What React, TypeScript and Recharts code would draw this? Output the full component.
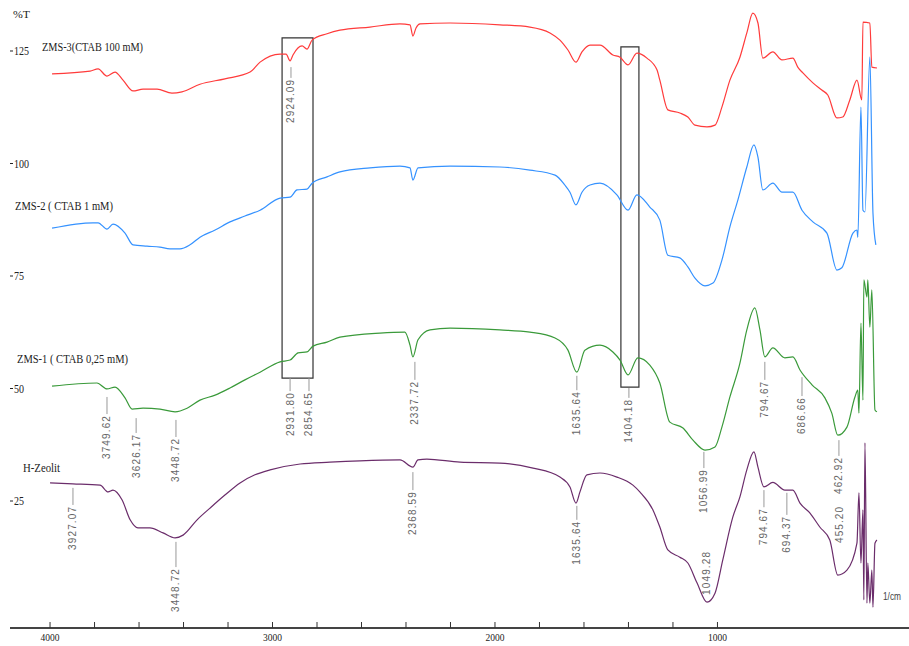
import React from "react";
import { LineChart, Line, XAxis, YAxis, ReferenceArea, ReferenceLine } from "recharts";

// wavenumber (1/cm) and %T, one pair of arrays per sample
const zms3Wn = [3991, 3820, 3784, 3744, 3708, 3672, 3627, 3582, 3519, 3452, 3407, 3326, 3214, 3101, 3056, 2966, 2939, 2921, 2908, 2867, 2845, 2822, 2755, 2697, 2562, 2427, 2382, 2369, 2355, 2337, 2202, 1978, 1843, 1753, 1708, 1672, 1636, 1609, 1573, 1528, 1470, 1438, 1402, 1362, 1317, 1272, 1259, 1223, 1169, 1133, 1101, 1047, 1011, 980, 944, 899, 868, 841, 818, 796, 751, 710, 661, 639, 616, 571, 531, 504, 463, 437, 405, 373, 351, 346, 315, 306, 283];
const zms3T = [119.7, 120.3, 120.8, 119.2, 120.1, 118.3, 115.9, 116.3, 116.3, 115.4, 115.7, 117.4, 118.6, 120.1, 122.3, 124.1, 124.1, 122.6, 123.9, 125.9, 125.2, 127.2, 128.6, 129.4, 130.1, 130.8, 130.6, 128.1, 129.9, 130.8, 131.0, 130.6, 130.1, 128.8, 127.2, 125.0, 122.3, 124.6, 126.1, 126.1, 123.9, 123.4, 121.7, 124.3, 123.2, 120.6, 118.3, 111.7, 111.0, 110.1, 108.3, 107.9, 108.3, 112.3, 118.3, 123.4, 128.8, 133.2, 131.0, 123.2, 124.6, 122.8, 123.2, 121.2, 119.9, 117.7, 116.1, 115.0, 109.9, 110.1, 113.9, 118.3, 113.9, 131.2, 131.0, 121.2, 121.0];

const zms2Wn = [3991, 3807, 3784, 3744, 3717, 3663, 3627, 3564, 3506, 3461, 3416, 3371, 3326, 3258, 3191, 3124, 3056, 2966, 2921, 2890, 2845, 2822, 2755, 2697, 2562, 2427, 2382, 2369, 2346, 2202, 1978, 1843, 1730, 1686, 1663, 1636, 1609, 1573, 1528, 1452, 1402, 1362, 1304, 1259, 1223, 1169, 1133, 1101, 1056, 1020, 980, 944, 908, 868, 836, 818, 796, 751, 710, 661, 620, 571, 508, 463, 441, 391, 373, 369, 355, 346, 337, 315, 301, 288];
const zms2T = [85.4, 86.6, 86.6, 85.2, 86.3, 84.3, 81.7, 81.4, 81.2, 80.8, 80.8, 81.7, 83.4, 85.0, 86.8, 88.1, 89.4, 92.1, 92.3, 93.9, 94.1, 95.4, 96.8, 97.9, 98.8, 99.2, 98.8, 96.1, 98.8, 99.2, 99.0, 98.3, 97.2, 95.0, 93.4, 90.6, 93.4, 95.0, 95.4, 92.8, 89.4, 92.8, 90.1, 87.2, 79.4, 78.8, 76.8, 74.3, 72.6, 73.2, 78.3, 85.7, 91.7, 99.0, 103.9, 101.2, 93.9, 95.4, 93.4, 93.4, 89.4, 86.8, 84.3, 76.1, 76.6, 84.3, 85.0, 83.4, 112.3, 89.4, 89.0, 123.4, 88.8, 81.7];

const zms1Wn = [3991, 3789, 3744, 3708, 3663, 3631, 3582, 3506, 3438, 3384, 3326, 3258, 3191, 3124, 3056, 2966, 2921, 2885, 2845, 2818, 2755, 2697, 2517, 2405, 2382, 2369, 2346, 2292, 2202, 1978, 1843, 1730, 1672, 1632, 1596, 1528, 1470, 1438, 1402, 1358, 1304, 1259, 1214, 1155, 1110, 1056, 1011, 980, 944, 899, 868, 832, 809, 787, 751, 697, 661, 629, 575, 517, 486, 459, 418, 382, 369, 364, 355, 346, 342, 328, 324, 315, 306, 292, 283];
const zms1T = [50.3, 51.0, 49.7, 50.1, 47.7, 45.2, 45.4, 45.2, 44.6, 45.4, 47.2, 48.3, 49.9, 51.7, 53.4, 55.7, 56.1, 57.7, 57.9, 59.2, 60.1, 61.2, 62.1, 62.3, 59.4, 56.8, 60.6, 62.8, 63.2, 62.8, 62.3, 61.0, 58.3, 53.4, 58.3, 59.4, 57.9, 56.1, 52.8, 56.6, 55.0, 51.0, 42.3, 41.0, 38.3, 36.1, 36.8, 41.2, 47.9, 55.4, 62.8, 67.7, 62.8, 56.8, 58.8, 56.6, 56.8, 53.9, 50.6, 47.7, 44.3, 39.4, 41.2, 47.9, 49.4, 44.3, 64.3, 47.2, 73.9, 70.1, 73.9, 63.4, 71.7, 45.0, 44.6];

const hzeoWn = [4000, 3897, 3775, 3739, 3717, 3676, 3640, 3605, 3551, 3492, 3438, 3402, 3339, 3281, 3214, 3146, 3079, 3011, 2876, 2742, 2607, 2427, 2369, 2346, 2306, 2157, 1978, 1829, 1708, 1663, 1636, 1618, 1587, 1528, 1452, 1380, 1349, 1290, 1259, 1223, 1169, 1133, 1092, 1047, 1011, 976, 931, 899, 868, 836, 818, 791, 751, 697, 661, 629, 584, 540, 495, 459, 418, 373, 364, 355, 346, 342, 337, 328, 324, 315, 306, 301, 292, 283];
const hzeoT = [28.8, 28.6, 28.3, 26.8, 27.2, 25.0, 20.6, 18.8, 18.8, 17.7, 16.6, 17.2, 20.6, 23.2, 26.1, 28.8, 30.6, 31.7, 33.0, 33.4, 33.7, 33.9, 32.3, 33.9, 34.1, 33.4, 33.2, 32.1, 30.1, 27.9, 24.3, 26.8, 30.6, 31.0, 30.1, 28.3, 26.8, 22.8, 19.0, 13.9, 12.3, 11.0, 6.6, 2.3, 4.3, 11.7, 21.2, 25.7, 31.7, 35.7, 32.3, 27.9, 28.9, 27.2, 27.2, 24.3, 22.1, 19.0, 16.1, 8.3, 9.4, 15.4, 26.6, 11.0, 22.8, 2.8, 37.7, 2.1, 11.0, 2.1, 9.4, 1.2, 15.4, 16.1];

// peak labels: text, position on the x axis, leader line top / bottom in %T
const peakText = ["2924.09", "3749.62", "3626.17", "3448.72", "2931.80", "2854.65", "2337.72", "1635.64", "1404.18", "1056.99", "794.67", "686.66", "462.92", "3927.07", "3448.72", "2368.59", "1635.64", "1049.28", "794.67", "694.37", "455.20"];
const peakAt = [2917, 3744, 3613, 3434, 2921, 2836, 2360, 1632, 1398, 1061, 787, 620, 454, 3897, 3434, 2369, 1632, 1047, 791, 688, 450];
const peakTop = [121.2, 47.9, 43.2, 42.8, 52.1, 52.1, 55.7, 52.6, 49.9, 35.7, 55.7, 52.3, 38.3, 27.7, 15.7, 31.2, 23.7, 14.3, 27.2, 26.6, 24.3];
const peakBottom = [118.8, 44.1, 39.9, 39.0, 49.2, 49.2, 51.7, 49.4, 47.7, 32.1, 51.7, 48.1, 34.8, 23.9, 10.1, 27.2, 20.6, 13.9, 23.4, 21.7, 23.9];
const peakLeader = [1, 1, 1, 1, 1, 1, 1, 1, 1, 1, 1, 1, 1, 1, 1, 1, 1, 0, 1, 1, 0];

const xTicks = [4000, 3800, 3600, 3400, 3200, 3000, 2800, 2600, 2400, 2200, 2000, 1800, 1600, 1400, 1200, 1000];
const yTicks = [25, 50, 75, 100, 125];

const toRows = (wn: number[], t: number[]) => wn.map((w, i) => ({ wn: w, t: t[i] }));

const series = [
  { name: "ZMS-3", data: toRows(zms3Wn, zms3T), color: "#ff3b3b" },
  { name: "ZMS-2", data: toRows(zms2Wn, zms2T), color: "#3592ff" },
  { name: "ZMS-1", data: toRows(zms1Wn, zms1T), color: "#3a9a3a" },
  { name: "H-Zeolit", data: toRows(hzeoWn, hzeoT), color: "#6b2d6b" },
];

function XTick(props: any) {
  const { x, y, payload } = props;
  const major = payload.value % 1000 === 0;
  return (
    <g>
      <line x1={x} x2={x} y1={y - 6} y2={y} stroke="#333" strokeWidth={1} />
      {major && (
        <text x={x} y={y + 13} textAnchor="middle" fontSize={11} fontFamily="Liberation Serif" fill="#222"
          textLength={19} lengthAdjust="spacingAndGlyphs">
          {payload.value}
        </text>
      )}
    </g>
  );
}

function YTick(props: any) {
  const { y, payload } = props;
  const s = String(payload.value);
  return (
    <g>
      <line x1={10} x2={13} y1={y + 1} y2={y + 1} stroke="#222" strokeWidth={1} />
      <text x={14} y={y + 5} fontSize={12} fontFamily="Liberation Serif" fill="#222"
        textLength={s.length * 5} lengthAdjust="spacingAndGlyphs">
        {s}
      </text>
    </g>
  );
}

const peakLabel = (text: string) => (props: any) => {
  const vb = props.viewBox || {};
  const x = vb.x ?? 0;
  const y = (vb.y ?? 0) + (vb.height ?? 0) + 2;
  return (
    <text x={x} y={y} transform={`rotate(-90 ${x} ${y})`} textAnchor="end" dominantBaseline="central"
      fontSize={10} fontFamily="Liberation Sans" fill="#666"
      textLength={text.length > 6 ? 43 : 36} lengthAdjust="spacing">
      {text}
    </text>
  );
};

export default function App() {
  return (
    <div style={{ position: "absolute", left: 0, top: 0, width: 909, height: 646, background: "#fff" }}>
      <LineChart width={909} height={646} margin={{ top: 0, right: 0, bottom: 0, left: 0 }}>
        <XAxis type="number" dataKey="wn" domain={[139, 4180]} reversed allowDataOverflow ticks={xTicks}
          height={18} tickSize={0} tickMargin={0} tickLine={false} tick={<XTick />}
          axisLine={{ stroke: "#444", strokeWidth: 2 }} interval={0} />
        <YAxis type="number" domain={[-3.44, 136.11]} allowDataOverflow ticks={yTicks} width={10}
          axisLine={false} tickLine={false} tick={<YTick />} interval={0} />
        {series.map((s) => (
          <Line key={s.name} data={s.data} dataKey="t" type="monotone" stroke={s.color} strokeWidth={1.2}
            dot={false} activeDot={false} isAnimationActive={false} />
        ))}
        <ReferenceArea x1={2957} x2={2818} y1={52.1} y2={127.7} fill="none" stroke="#333" strokeWidth={1.2} ifOverflow="visible" />
        <ReferenceArea x1={1434} x2={1353} y1={50.1} y2={125.7} fill="none" stroke="#333" strokeWidth={1.2} ifOverflow="visible" />
        {peakText.map((t, i) => (
          <ReferenceLine key={i}
            segment={[{ x: peakAt[i], y: peakTop[i] }, { x: peakAt[i], y: peakBottom[i] }]}
            stroke={peakLeader[i] ? "#999" : "none"} strokeWidth={1} ifOverflow="visible"
            label={peakLabel(t)} />
        ))}
      </LineChart>
      <svg width={909} height={646} style={{ position: "absolute", left: 0, top: 0, pointerEvents: "none" }}>
        <g fontFamily="Liberation Serif" fill="#222">
          <text x={13} y={18} fontSize={10} textLength={17} lengthAdjust="spacingAndGlyphs">%T</text>
          <text x={42} y={51} fontSize={13} textLength={101} lengthAdjust="spacingAndGlyphs">ZMS-3(CTAB 100 mM)</text>
          <text x={15} y={210} fontSize={13} textLength={98} lengthAdjust="spacingAndGlyphs">ZMS-2 ( CTAB 1 mM)</text>
          <text x={17} y={363} fontSize={13} textLength={111} lengthAdjust="spacingAndGlyphs">ZMS-1 ( CTAB 0,25 mM)</text>
          <text x={23} y={472} fontSize={13} textLength={37} lengthAdjust="spacingAndGlyphs">H-Zeolit</text>
          <text x={883} y={600} fontSize={10} fontFamily="Liberation Sans" fill="#444"
            textLength={18} lengthAdjust="spacingAndGlyphs">1/cm</text>
        </g>
      </svg>
    </div>
  );
}
